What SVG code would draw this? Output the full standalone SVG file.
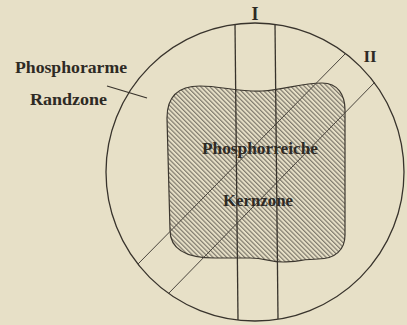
<svg xmlns="http://www.w3.org/2000/svg" width="407" height="325" viewBox="0 0 407 325">
<style>
.ln{stroke:#38332c;stroke-width:1.3;fill:none}
.ln2{stroke:#4a453d;stroke-width:1;fill:none}
.t{font-family:"Liberation Serif","DejaVu Serif",serif;fill:#2e2a24;font-weight:bold}
</style>
<defs>
<pattern id="hatch" patternUnits="userSpaceOnUse" width="3.2" height="10" patternTransform="rotate(-45)">
<rect x="0" y="0" width="1.2" height="10" fill="#7f7a6d"/>
</pattern>
</defs>
<rect width="407" height="325" fill="#e7e0c7"/>
<g id="core">
<path d="M167,118 C167,95 180,86 200,86 C220,86 240,92 262,91 C285,90 300,83 322,83 C338,83 345,95 345,110 L345,235 C345,250 335,259 318,259 C305,259 295,262 283,262 C270,262 265,258 250,258 L215,258 C185,258 170,248 170,230 Z" fill="url(#hatch)" stroke="#3c372f" stroke-width="1.2"/>
</g>
<g id="circle">
<circle cx="255" cy="172" r="149" class="ln" stroke-width="1.6"/>
</g>
<g id="sections">
<line x1="235" y1="24" x2="238" y2="320" class="ln"/>
<line x1="275" y1="24" x2="278" y2="319" class="ln"/>
<line x1="345" y1="54" x2="138" y2="264" class="ln2"/>
<line x1="375" y1="82" x2="168" y2="294" class="ln2"/>
<line x1="107" y1="86" x2="147" y2="98" class="ln"/>
</g>
<g id="labels">
<text class="t" x="255" y="20" font-size="18" text-anchor="middle">I</text>
<text class="t" x="370" y="62" font-size="17" text-anchor="middle">II</text>
<text class="t" x="15" y="73" font-size="16" textLength="112" lengthAdjust="spacingAndGlyphs">Phosphorarme</text>
<text class="t" x="30" y="105" font-size="16" textLength="77" lengthAdjust="spacingAndGlyphs">Randzone</text>
<text class="t" x="202" y="154" font-size="16" textLength="116" lengthAdjust="spacingAndGlyphs" fill="#3d3d4a">Phosphorreiche</text>
<text class="t" x="223" y="206" font-size="16" textLength="70" lengthAdjust="spacingAndGlyphs" fill="#3d3d4a">Kernzone</text>
</g>
</svg>
